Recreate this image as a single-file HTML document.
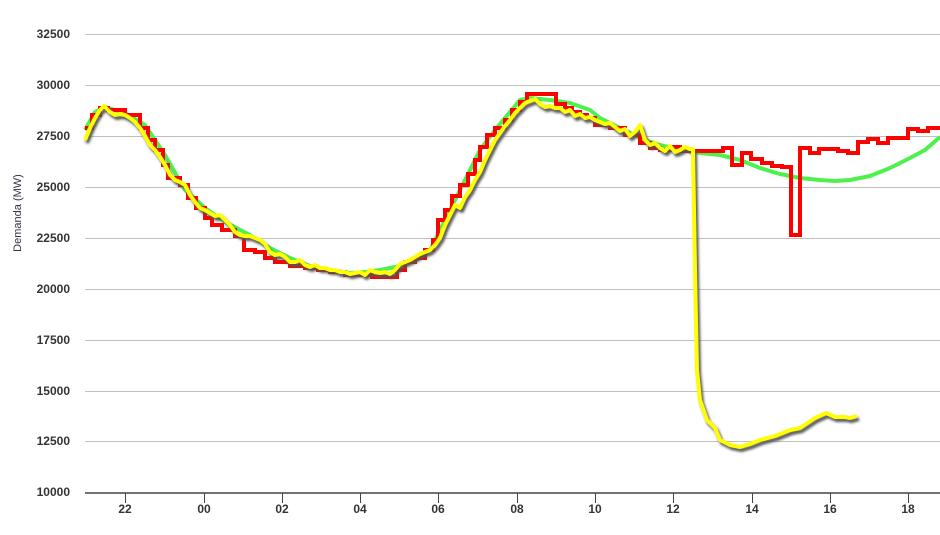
<!DOCTYPE html>
<html><head><meta charset="utf-8"><style>
html,body{margin:0;padding:0;background:#fff;}
svg{display:block;font-family:"Liberation Sans",sans-serif;}
.t{font-size:12px;font-weight:bold;fill:#333;}
</style></head><body>
<svg width="940" height="535" viewBox="0 0 940 535">
<defs><filter id="sh" x="-5%" y="-5%" width="110%" height="110%"><feGaussianBlur stdDeviation="1.2"/></filter></defs>
<g stroke="#c0c0c0" stroke-width="1">
<line x1="85" x2="940" y1="34.5" y2="34.5"/><line x1="85" x2="940" y1="85.5" y2="85.5"/>
<line x1="85" x2="940" y1="136.5" y2="136.5"/><line x1="85" x2="940" y1="187.5" y2="187.5"/>
<line x1="85" x2="940" y1="238.5" y2="238.5"/><line x1="85" x2="940" y1="289.5" y2="289.5"/>
<line x1="85" x2="940" y1="340.5" y2="340.5"/><line x1="85" x2="940" y1="391.5" y2="391.5"/>
<line x1="85" x2="940" y1="441.5" y2="441.5"/>
</g>
<line x1="85" x2="940" y1="493" y2="493" stroke="#444" stroke-width="1.5"/>
<g stroke="#444" stroke-width="1">
<line x1="125.5" x2="125.5" y1="493" y2="503"/><line x1="204.5" x2="204.5" y1="493" y2="503"/>
<line x1="282.5" x2="282.5" y1="493" y2="503"/><line x1="360.5" x2="360.5" y1="493" y2="503"/>
<line x1="438.5" x2="438.5" y1="493" y2="503"/><line x1="517.5" x2="517.5" y1="493" y2="503"/>
<line x1="595.5" x2="595.5" y1="493" y2="503"/><line x1="673.5" x2="673.5" y1="493" y2="503"/>
<line x1="752.5" x2="752.5" y1="493" y2="503"/><line x1="830.5" x2="830.5" y1="493" y2="503"/>
<line x1="908.5" x2="908.5" y1="493" y2="503"/>
</g>
<g class="t" text-anchor="end">
<text x="70" y="38">32500</text><text x="70" y="89">30000</text><text x="70" y="140">27500</text>
<text x="70" y="191">25000</text><text x="70" y="242">22500</text><text x="70" y="293">20000</text>
<text x="70" y="344">17500</text><text x="70" y="395">15000</text><text x="70" y="445">12500</text>
<text x="70" y="496">10000</text>
</g>
<g class="t" text-anchor="middle">
<text x="125" y="513">22</text><text x="204" y="513">00</text><text x="282" y="513">02</text>
<text x="360" y="513">04</text><text x="438" y="513">06</text><text x="517" y="513">08</text>
<text x="595" y="513">10</text><text x="673" y="513">12</text><text x="752" y="513">14</text>
<text x="830" y="513">16</text><text x="908" y="513">18</text>
</g>
<text transform="translate(21,213) rotate(-90)" text-anchor="middle" font-size="11" fill="#334">Demanda (MW)</text>

<polyline fill="none" stroke="#4df04d" stroke-width="4" stroke-linejoin="round" points="85,130 95,112 105,107 125,113 145,125 165,155 185,190 205,208 225,222 250,235 270,248 290,258 310,266 330,270 350,273 365,272 380,270 400,266 420,258 430,250 440,230 450,210 465,180 480,150 495,130 510,112 520,100 530,98 550,100 570,103 590,110 600,118 620,128 640,138 660,145 680,150 700,153 720,155 740,160 760,168 780,174 800,178 820,180 835,181 850,180 870,176 890,168 910,158 925,150 940,137"/>

<path fill="none" stroke="#ff0000" stroke-width="4" d="M85,128 H92 V115 H100 V108 H108 V110 H125 V115 H140 V128 H148 V140 H155 V150 H163 V165 H168 V178 H180 V185 H188 V198 H196 V208 H205 V218 H212 V225 H222 V230 H235 V236 H244 V250 H255 V252 H265 V258 H275 V262 H290 V266 H305 V268 H318 V270 H330 V272 H345 V275 H372 V277 H397 V270 H405 V262 H415 V258 H425 V250 H433 V240 H438 V220 H445 V210 H452 V196 H460 V185 H468 V174 H475 V160 H480 V147 H487 V135 H495 V128 H505 V120 H512 V110 H520 V102 H527 V94 H556 V104 H565 V108 H572 V112 H580 V115 H587 V118 H595 V125 H610 V128 H625 V135 H640 V143 H650 V148 H660 V150 H670 V147 H680 V151 H695 V151 H723 V148 H732 V165 H742 V153 H751 V159 H762 V163 H772 V166 H782 V167 H791 V235 H800 V148 H810 V153 H819 V149 H838 V151 H848 V153 H858 V142 H868 V139 H878 V143 H888 V138 H908 V129 H918 V131 H928 V128 H940"/>

<g transform="translate(2,3)" filter="url(#sh)">
<polyline id="yl" fill="none" stroke="#555" stroke-width="4" stroke-linejoin="round" points="85,140 90,128 95,118 100,110 104,106 110,112 115,115 120,114 125,115 130,118 135,122 140,128 145,136 150,145 155,150 160,157 165,165 170,175 175,180 180,182 185,185 190,195 195,202 200,208 205,210 210,213 215,216 220,215 225,220 230,225 235,232 240,235 245,236 250,236 255,238 260,240 265,244 270,252 275,255 280,254 285,257 290,262 295,262 300,260 305,265 310,267 315,265 320,268 325,268 330,270 335,270 340,272 345,272 350,274 355,273 360,272 365,275 370,270 375,272 380,273 385,272 390,274 395,270 400,264 405,262 410,260 415,257 420,254 425,252 430,250 435,245 440,238 445,225 450,215 455,205 460,208 465,197 470,190 475,180 480,172 485,160 490,150 495,140 500,133 505,126 510,120 515,113 520,108 525,103 530,101 535,99 540,104 545,107 550,106 555,108 560,108 565,112 570,110 575,116 580,114 585,118 590,117 595,120 600,122 605,124 610,123 615,127 620,131 625,129 630,136 635,132 640,125 645,140 650,145 655,143 660,148 665,151 670,146 675,152 680,150 685,147 690,149 693,149 695,270 697,370 700,400 707,420 715,428 720,440 730,445 740,447 750,444 760,440 775,436 790,430 800,428 815,418 826,413 835,417 845,417 850,418 857,416"/>
</g>
<polyline fill="none" stroke="#ffff00" stroke-width="4" stroke-linejoin="round" points="85,140 90,128 95,118 100,110 104,106 110,112 115,115 120,114 125,115 130,118 135,122 140,128 145,136 150,145 155,150 160,157 165,165 170,175 175,180 180,182 185,185 190,195 195,202 200,208 205,210 210,213 215,216 220,215 225,220 230,225 235,232 240,235 245,236 250,236 255,238 260,240 265,244 270,252 275,255 280,254 285,257 290,262 295,262 300,260 305,265 310,267 315,265 320,268 325,268 330,270 335,270 340,272 345,272 350,274 355,273 360,272 365,275 370,270 375,272 380,273 385,272 390,274 395,270 400,264 405,262 410,260 415,257 420,254 425,252 430,250 435,245 440,238 445,225 450,215 455,205 460,208 465,197 470,190 475,180 480,172 485,160 490,150 495,140 500,133 505,126 510,120 515,113 520,108 525,103 530,101 535,99 540,104 545,107 550,106 555,108 560,108 565,112 570,110 575,116 580,114 585,118 590,117 595,120 600,122 605,124 610,123 615,127 620,131 625,129 630,136 635,132 640,125 645,140 650,145 655,143 660,148 665,151 670,146 675,152 680,150 685,147 690,149 693,149 695,270 697,370 700,400 707,420 715,428 720,440 730,445 740,447 750,444 760,440 775,436 790,430 800,428 815,418 826,413 835,417 845,417 850,418 857,416"/>
</svg>
</body></html>
